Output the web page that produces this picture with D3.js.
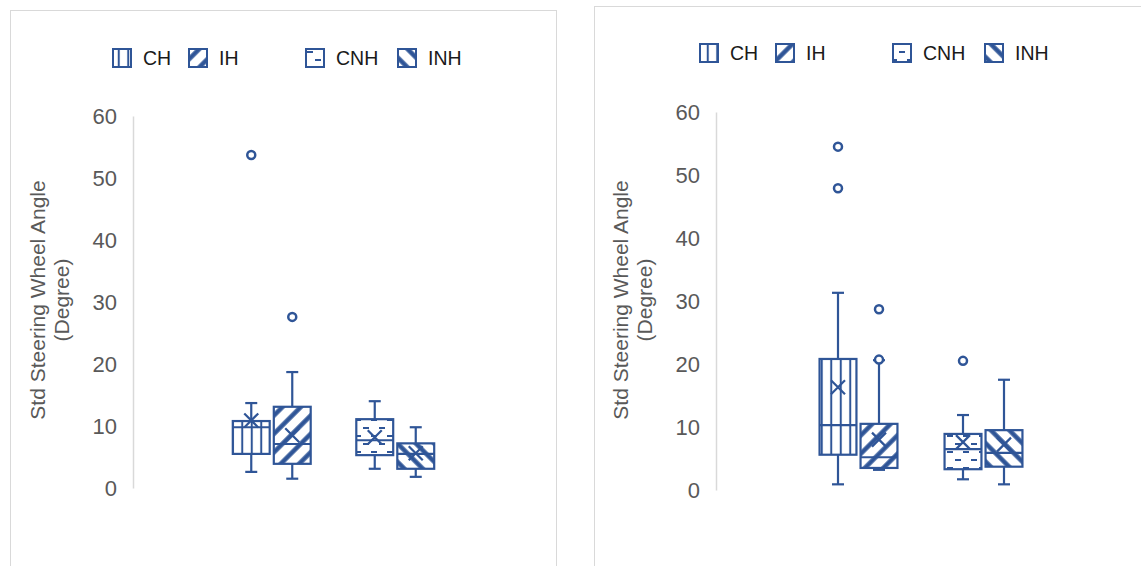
<!DOCTYPE html>
<html>
<head>
<meta charset="utf-8">
<title>Std Steering Wheel Angle</title>
<script src="https://cdn.jsdelivr.net/npm/d3@7"></script>
<style>
  body { margin: 0; background: #ffffff; }
  svg { display: block; font-family: "Liberation Sans", Arial, sans-serif; }
  .frame { fill: #ffffff; stroke: #d9d9d9; stroke-width: 1; }
  .axis path { stroke: #d9d9d9; stroke-width: 1.5; }
  .axis text { fill: #595959; font-size: 22px; }
  .ytitle { fill: #595959; font-size: 21px; }
  .legend text { fill: #1a1a1a; font-size: 19.5px; }
  .mark { stroke: #2f5597; stroke-width: 2.2; fill: none; }
</style>
</head>
<body>
<div id="chart"></div>
<script>
// series + groups
var seriesNames = ["CH", "IH", "CNH", "INH"]
var seriesGroup = ["H", "H", "NH", "NH"]
var groups = ["H", "NH"]
var yTicks = [0, 10, 20, 30, 40, 50, 60]

// left chart: [min, q1, median, q3, max]
var leftBoxes = [
    [2.6, 5.5, 9.8, 10.8, 13.7],
    [1.5, 3.9, 7.1, 13.1, 18.7],
    [3.1, 5.3, 7.7, 11.1, 14.0],
    [1.8, 3.1, 5.5, 7.2, 9.8]
]
var leftMeans = [10.9, 8.5, 8.2, 5.6]
var leftOutliers = [[53.7], [27.6], [], []]

// right chart
var rightBoxes = [
    [0.9, 5.6, 10.3, 20.8, 31.3],
    [3.2, 3.5, 5.2, 10.5, 20.6],
    [1.7, 3.3, 6.5, 8.9, 11.9],
    [0.9, 3.7, 5.9, 9.5, 17.5]
]
var rightMeans = [16.3, 8.0, 7.6, 7.2]
var rightOutliers = [[54.5, 47.9], [20.7, 28.7], [20.5], []]

var blue = "#2f5597"
var W = 1141, H = 566

var svg = d3.select("#chart").append("svg")
    .attr("width", W).attr("height", H)

// patterns
var defs = svg.append("defs")
function stripePattern(id, size, width, angle) {
    var p = defs.append("pattern").attr("id", id)
        .attr("patternUnits", "userSpaceOnUse")
        .attr("width", size).attr("height", size)
        .attr("patternTransform", "rotate(" + angle + ")")
    p.append("rect").attr("width", size).attr("height", size).attr("fill", "#fff")
    p.append("line").attr("x1", size / 2).attr("x2", size / 2)
        .attr("y1", 0).attr("y2", size)
        .attr("stroke", blue).attr("stroke-width", width)
}
stripePattern("pat-CH", 9.5, 2, 0)
stripePattern("pat-IH", 13, 4.5, 45)
stripePattern("pat-INH", 13, 4.5, -45)
var pc = defs.append("pattern").attr("id", "pat-CNH")
    .attr("patternUnits", "userSpaceOnUse").attr("width", 16).attr("height", 16)
pc.append("rect").attr("width", 16).attr("height", 16).attr("fill", "#fff")
pc.append("line").attr("x1", 3).attr("x2", 9).attr("y1", 4).attr("y2", 4)
    .attr("stroke", blue).attr("stroke-width", 2)
pc.append("line").attr("x1", 11).attr("x2", 17).attr("y1", 12).attr("y2", 12)
    .attr("stroke", blue).attr("stroke-width", 2)
pc.append("line").attr("x1", -5).attr("x2", 1).attr("y1", 12).attr("y2", 12)
    .attr("stroke", blue).attr("stroke-width", 2)

function drawPanel(cfg) {
    var g = svg.append("g")

    g.append("rect").attr("class", "frame")
        .attr("x", cfg.frame[0] + 0.5).attr("y", cfg.frame[1] + 0.5)
        .attr("width", cfg.frame[2]).attr("height", cfg.frame[3])

    var y = d3.scaleLinear().domain([0, 60]).range([cfg.y0, cfg.y1])
    var x = d3.scaleBand().domain(groups).range(cfg.xr).padding(0)
    var inner = d3.scaleBand().domain([0, 1]).range([0, 82]).paddingInner(0.1).paddingOuter(0.05)

    var axis = g.append("g").attr("class", "axis")
        .attr("transform", "translate(" + cfg.axisX + ",0)")
        .call(d3.axisLeft(y).tickValues(yTicks).tickSize(0).tickSizeOuter(0).tickPadding(16))
    axis.selectAll("text").attr("dy", "0.36em")

    // y title
    var t = g.append("text").attr("class", "ytitle")
        .attr("transform", "translate(" + cfg.titleX + "," + cfg.titleY + ") rotate(-90)")
        .attr("text-anchor", "middle")
    t.append("tspan").attr("x", 0).attr("y", 0).text("Std Steering Wheel Angle")
    t.append("tspan").attr("x", 0).attr("y", 24).text("(Degree)")

    // legend
    var lg = g.append("g").attr("class", "legend")
    seriesNames.forEach(function(s, i) {
        var lx = cfg.legendX[i]
        lg.append("rect").attr("x", lx + 1).attr("y", cfg.legendY - 9)
            .attr("width", 18).attr("height", 18)
            .style("fill", "url(#pat-" + s + ")")
            .attr("stroke", blue).attr("stroke-width", 2)
        lg.append("text").attr("x", lx + 31).attr("y", cfg.legendY)
            .attr("dy", "0.36em").text(s)
    })

    // boxes
    var bw = inner.bandwidth()
    seriesNames.forEach(function(s, i) {
        var b = cfg.boxes[i]
        var slot = i % 2
        var left = x(seriesGroup[i]) + (x.bandwidth() - 82) / 2 + inner(slot)
        var cx = left + bw / 2
        var bg = g.append("g")
        // whiskers
        bg.append("line").attr("class", "mark")
            .attr("x1", cx).attr("x2", cx).attr("y1", y(b[3])).attr("y2", y(b[4]))
        bg.append("line").attr("class", "mark")
            .attr("x1", cx).attr("x2", cx).attr("y1", y(b[1])).attr("y2", y(b[0]))
        ;[b[0], b[4]].forEach(function(v) {
            bg.append("line").attr("class", "mark")
                .attr("x1", cx - 6).attr("x2", cx + 6).attr("y1", y(v)).attr("y2", y(v))
        })
        bg.append("rect").attr("class", "mark")
            .attr("x", left).attr("width", bw)
            .attr("y", y(b[3])).attr("height", y(b[1]) - y(b[3]))
            .style("fill", "url(#pat-" + s + ")")
        bg.append("line").attr("class", "mark")
            .attr("x1", left).attr("x2", left + bw).attr("y1", y(b[2])).attr("y2", y(b[2]))
        // mean X
        var my = y(cfg.means[i]), k = 7
        bg.append("path").attr("class", "mark")
            .attr("d", "M" + (cx - k) + "," + (my - k) + "L" + (cx + k) + "," + (my + k) +
                "M" + (cx - k) + "," + (my + k) + "L" + (cx + k) + "," + (my - k))
        cfg.outliers[i].forEach(function(v) {
            bg.append("circle").attr("class", "mark")
                .attr("cx", cx).attr("cy", y(v)).attr("r", 4)
                .style("fill", "#fff").style("stroke-width", 2.5)
        })
    })
}

drawPanel({
    frame: [10, 10, 546, 600],
    axisX: 133, y0: 488, y1: 116,
    xr: [210, 457],
    titleX: 45, titleY: 300,
    legendX: [112, 188, 305, 397], legendY: 58,
    boxes: leftBoxes, means: leftMeans, outliers: leftOutliers
})
drawPanel({
    frame: [594, 6, 600, 600],
    axisX: 716, y0: 490, y1: 112,
    xr: [796, 1046],
    titleX: 628, titleY: 300,
    legendX: [699, 775, 892, 984], legendY: 53,
    boxes: rightBoxes, means: rightMeans, outliers: rightOutliers
})
</script>
</body>
</html>
